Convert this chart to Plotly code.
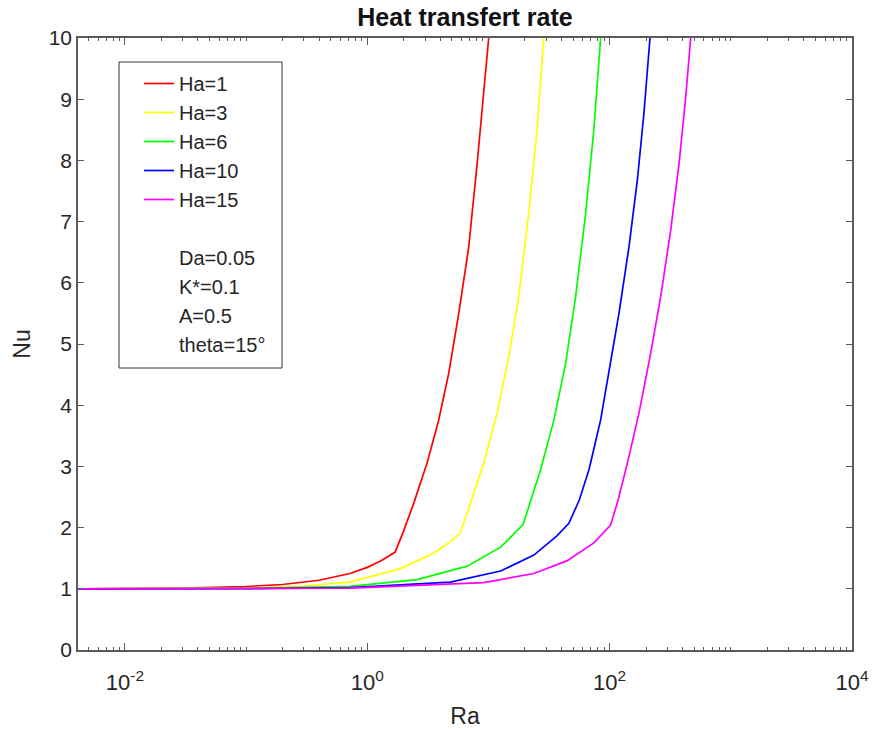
import plotly.graph_objects as go

# ---- data ----
ra_ha1 = [0.0041, 0.01, 0.03, 0.1, 0.2, 0.4, 0.72, 1.0, 1.3, 1.70, 2.0, 2.42, 3.11, 3.88, 4.70, 5.69, 6.87, 8.07, 10.05]
nu_ha1 = [1.0, 1.003, 1.01, 1.035, 1.07, 1.14, 1.25, 1.35, 1.46, 1.60, 1.95, 2.40, 3.05, 3.75, 4.52, 5.50, 6.58, 7.95, 10.0]

ra_ha3 = [0.0041, 0.01, 0.1, 0.3, 0.72, 1.87, 3.53, 4.85, 5.87, 7.10, 9.14, 11.8, 14.7, 17.8, 21.5, 25.2, 28.6]
nu_ha3 = [1.0, 1.0015, 1.015, 1.046, 1.11, 1.33, 1.58, 1.77, 1.91, 2.40, 3.05, 3.87, 4.79, 5.77, 7.14, 8.50, 10.0]

ra_ha6 = [0.0041, 0.01, 0.1, 0.72, 2.58, 6.67, 12.6, 19.3, 26.9, 34.7, 43.3, 52.4, 63.4, 74.1, 84.3]
nu_ha6 = [1.0, 1.0005, 1.005, 1.04, 1.15, 1.37, 1.68, 2.05, 2.94, 3.76, 4.68, 5.77, 7.14, 8.50, 10.0]

ra_ha10 = [0.0041, 0.1, 0.72, 4.85, 12.6, 23.7, 36.9, 46.1, 56.2, 67.6, 84.3, 101.9, 119.4, 144.5, 169.4, 191.9, 215.3]
nu_ha10 = [1.0, 1.002, 1.02, 1.11, 1.29, 1.55, 1.87, 2.07, 2.45, 2.95, 3.76, 4.68, 5.50, 6.59, 7.68, 8.77, 10.0]

ra_ha15 = [0.0041, 0.1, 0.72, 9.14, 23.7, 44.7, 74.1, 101.9, 117.5, 140.0, 174.6, 218.3, 263.6, 319.2, 374.1, 424.6, 466.7]
nu_ha15 = [1.0, 1.001, 1.01, 1.10, 1.25, 1.46, 1.75, 2.04, 2.45, 3.05, 3.87, 4.85, 5.77, 6.86, 7.95, 9.04, 10.0]

series_names = ["Ha=1", "Ha=3", "Ha=6", "Ha=10", "Ha=15"]
series_colors = ["#ff0000", "#ffff00", "#00ff00", "#0000ff", "#ff00ff"]
series_x = [ra_ha1, ra_ha3, ra_ha6, ra_ha10, ra_ha15]
series_y = [nu_ha1, nu_ha3, nu_ha6, nu_ha10, nu_ha15]

note_lines = [" ", "Da=0.05", "K*=0.1", "A=0.5", "theta=15°"]

x_tickvals = [1e-2, 1e0, 1e2, 1e4]
x_ticktext = ["10<sup>-2</sup>", "10<sup>0</sup>", "10<sup>2</sup>", "10<sup>4</sup>"]
y_tickvals = list(range(0, 11))

x_minor = [k * 10.0 ** d for d in range(-3, 4) for k in range(1, 10)
           if (k * 10.0 ** d) not in x_tickvals and 0.0041 <= k * 10.0 ** d <= 1e4]

FONT = "Liberation Sans, Arial, Helvetica, sans-serif"
AX = "#5c5c5c"
TXT = "#262626"

fig = go.Figure()
for name, xs, ys, col in zip(series_names, series_x, series_y, series_colors):
    fig.add_trace(go.Scatter(x=xs, y=ys, mode="lines", name=name,
                             line=dict(color=col, width=1.7)))
for n in note_lines:
    fig.add_trace(go.Scatter(x=[None], y=[None], mode="lines", name=n,
                             line=dict(color="rgba(0,0,0,0)", width=1.5)))

# plot area in px: left 78, right 852, top 38, bottom 650
W, H = 872, 729
L, R, T, B = 78, 852, 38, 650
pw, ph = R - L, B - T

def px(xp):
    return (xp - L) / pw

def py(yp):
    return (B - yp) / ph

fig.update_layout(
    width=W, height=H,
    margin=dict(l=L, r=W - R, t=T, b=H - B),
    paper_bgcolor="white", plot_bgcolor="white",
    font=dict(family=FONT, color=TXT, size=20),
    title=dict(text="<b>Heat transfert rate</b>", font=dict(size=25, color="#111111"),
               x=0.5, xref="paper", xanchor="center",
               y=1 - 17 / H, yref="container", yanchor="middle"),
    showlegend=True,
    legend=dict(x=px(139), y=py(64), xanchor="left", yanchor="top",
                bgcolor="rgba(0,0,0,0)", borderwidth=0,
                font=dict(size=20, color=TXT), tracegroupgap=0),
    shapes=[dict(type="rect", xref="paper", yref="paper",
                 x0=px(119), x1=px(282), y0=py(368), y1=py(62),
                 line=dict(color="#333333", width=1), layer="above")],
)

fig.update_xaxes(type="log", range=[-2.387, 4], automargin=False,
                 tickmode="array", tickvals=x_tickvals, ticktext=x_ticktext,
                 ticks="inside", ticklen=7, tickwidth=1, tickcolor=AX,
                 minor=dict(ticks="inside", ticklen=3, tickwidth=1, tickcolor=AX,
                            tickmode="array", tickvals=x_minor, showgrid=False),
                 showline=True, linecolor=AX, linewidth=1.5, mirror="ticks",
                 showgrid=False, zeroline=False, ticklabelstandoff=12,
                 tickfont=dict(size=22, color=TXT),
                 title=dict(text="Ra", font=dict(size=23, color=TXT), standoff=14))

fig.update_yaxes(range=[0, 10], tickmode="array", tickvals=y_tickvals, automargin=False,
                 ticks="inside", ticklen=6, tickwidth=1, tickcolor=AX,
                 showline=True, linecolor=AX, linewidth=1.5, mirror="ticks",
                 showgrid=False, zeroline=False,
                 tickfont=dict(size=21, color=TXT),
                 title=dict(text="Nu", font=dict(size=23, color=TXT), standoff=12))

fig.write_html("out.html")
